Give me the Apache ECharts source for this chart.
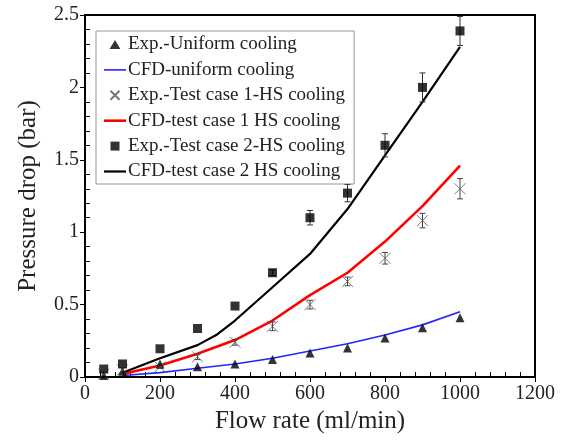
<!DOCTYPE html>
<html>
<head>
<meta charset="utf-8">
<script src="https://cdn.jsdelivr.net/npm/echarts@6/dist/echarts.min.js"></script>
<style>
  html, body { margin: 0; padding: 0; background: #fff; }
  #chart { width: 564px; height: 443px; }
</style>
</head>
<body>
<div id="chart"></div>
<script>
// Flow rates (ml/min) of the measured points
const flowExp = [50, 100, 200, 300, 400, 500, 600, 700, 800, 900, 1000];
// Measured pressure drop (bar)
const expUniform = [0.01, 0.04, 0.09, 0.07, 0.09, 0.12, 0.165, 0.20, 0.27, 0.34, 0.41];
const expCase1 = [0.02, 0.05, 0.07, 0.14, 0.24, 0.35, 0.50, 0.66, 0.82, 1.08, 1.30];
const errCase1 = [0, 0, 0.01, 0.02, 0.02, 0.03, 0.03, 0.03, 0.04, 0.05, 0.07];
const expCase2 = [0.055, 0.09, 0.195, 0.335, 0.49, 0.72, 1.10, 1.27, 1.60, 2.00, 2.39];
const errCase2 = [0, 0, 0, 0, 0, 0.02, 0.05, 0.06, 0.08, 0.10, 0.10];

// CFD predictions
const cfdFlow = [100, 200, 300, 400, 500, 600, 700, 800, 900, 1000];
const cfdUniform = [0.01, 0.03, 0.06, 0.09, 0.13, 0.18, 0.23, 0.29, 0.36, 0.45];
const cfdCase1 = [0.02, 0.08, 0.16, 0.255, 0.39, 0.565, 0.72, 0.935, 1.18, 1.46];
const cfdFlow2 = [100, 200, 300, 350, 400, 500, 600, 700, 800, 900, 1000];
const cfdCase2 = [0.03, 0.13, 0.22, 0.29, 0.39, 0.62, 0.85, 1.16, 1.53, 1.90, 2.28];

const xTicks = [0, 200, 400, 600, 800, 1000, 1200];
const yTicks = [0, 0.5, 1, 1.5, 2, 2.5];

const names = [
  'Exp.-Uniform cooling',
  'CFD-uniform cooling',
  'Exp.-Test case 1-HS cooling',
  'CFD-test case 1 HS cooling',
  'Exp.-Test case 2-HS cooling',
  'CFD-test case 2 HS cooling'
];

const FONT = '"Liberation Serif", "Times New Roman", serif';

// Legend icons (kept at their own aspect inside the icon box)
function lineIcon(w) { return 'path://M0,0 L22,0 L22,' + w + ' L0,' + w + ' Z'; }
const triIcon = 'path://M4.5,1.5 L9,9 L0,9 Z';
const sqIcon = 'path://M0,0 L8,0 L8,8 L0,8 Z';
const crossIcon = 'path://M0,0 L9,9 M9,0 L0,9';

function pairs(xs, ys) { return xs.map((x, i) => [x, ys[i]]); }
function errData(xs, ys, es) {
  return xs.map((x, i) => [x, ys[i], es[i]]).filter(d => d[2] > 0);
}

function errorBars(color) {
  return function (params, api) {
    const x = api.value(0), y = api.value(1), e = api.value(2);
    const top = api.coord([x, y + e]);
    const bot = api.coord([x, y - e]);
    const cap = 3;
    const st = { stroke: color, lineWidth: 1 };
    return {
      type: 'group',
      children: [
        { type: 'line', shape: { x1: top[0], y1: top[1], x2: bot[0], y2: bot[1] }, style: st },
        { type: 'line', shape: { x1: top[0] - cap, y1: top[1], x2: top[0] + cap, y2: top[1] }, style: st },
        { type: 'line', shape: { x1: bot[0] - cap, y1: bot[1], x2: bot[0] + cap, y2: bot[1] }, style: st }
      ]
    };
  };
}

const chart = echarts.init(document.getElementById('chart'), null, { renderer: 'canvas' });

chart.setOption({
  animation: false,
  backgroundColor: '#fff',
  textStyle: { fontFamily: FONT, color: '#000' },
  grid: {
    left: 85, right: 29, top: 15, bottom: 66,
    show: true, borderColor: '#000', borderWidth: 2, backgroundColor: 'transparent'
  },
  legend: {
    orient: 'vertical',
    left: 96, top: 31,
    padding: [4, 9, 3, 8],
    itemGap: 6.4,
    itemWidth: 22,
    itemHeight: 9,
    symbolKeepAspect: true,
    borderColor: '#999',
    borderWidth: 1,
    textStyle: { fontFamily: FONT, fontSize: 19, color: '#222', padding: [0, 0, 0, -3] },
    data: [
      { name: names[0], icon: triIcon },
      { name: names[1], icon: lineIcon(1.6) },
      { name: names[2], icon: crossIcon },
      { name: names[3], icon: lineIcon(2.6) },
      { name: names[4], icon: sqIcon },
      { name: names[5], icon: lineIcon(2.2) }
    ]
  },
  xAxis: {
    type: 'value',
    min: 0, max: 1200, interval: 200,
    name: 'Flow rate (ml/min)',
    nameLocation: 'middle',
    nameGap: 21,
    nameTextStyle: { fontFamily: FONT, fontSize: 25, color: '#222' },
    axisLine: { lineStyle: { color: '#000', width: 2 } },
    axisTick: { show: true, inside: false, length: 5, lineStyle: { color: '#000', width: 1 } },
    minorTick: { show: true, splitNumber: 5, length: -5, lineStyle: { color: '#000', width: 1 } },
    axisLabel: {
      fontFamily: FONT, fontSize: 20, color: '#222', margin: 7,
      formatter: v => xTicks.includes(v) ? String(v) : ''
    },
    splitLine: { show: false }
  },
  yAxis: {
    type: 'value',
    min: 0, max: 2.5, interval: 0.5,
    name: 'Pressure drop (bar)',
    nameLocation: 'middle',
    nameRotate: 90,
    nameGap: 44,
    nameTextStyle: { fontFamily: FONT, fontSize: 25, color: '#222' },
    axisLine: { lineStyle: { color: '#000', width: 2 } },
    axisTick: { show: true, inside: false, length: 5, lineStyle: { color: '#000', width: 1 } },
    minorTick: { show: true, splitNumber: 5, length: -5, lineStyle: { color: '#000', width: 1 } },
    axisLabel: {
      fontFamily: FONT, fontSize: 20, color: '#222', margin: 6,
      formatter: v => yTicks.includes(v) ? String(v) : ''
    },
    splitLine: { show: false }
  },
  series: [
    {
      name: names[0], type: 'scatter', symbol: 'triangle', symbolSize: 9,
      itemStyle: { color: '#000' },
      data: pairs(flowExp, expUniform), z: 5
    },
    {
      name: names[1], type: 'line', symbol: 'none',
      lineStyle: { color: '#2424ff', width: 1.6 }, itemStyle: { color: '#2424ff' },
      data: pairs(cfdFlow, cfdUniform), z: 3
    },
    {
      name: names[2], type: 'scatter',
      symbol: 'path://M0,0 L10,10 M10,0 L0,10', symbolSize: 11,
      itemStyle: { color: 'none', borderColor: '#555', borderWidth: 1 },
      data: pairs(flowExp, expCase1), z: 5
    },
    {
      name: names[3], type: 'line', symbol: 'none',
      lineStyle: { color: '#ff0000', width: 2.6 }, itemStyle: { color: '#ff0000' },
      data: pairs(cfdFlow, cfdCase1), z: 3
    },
    {
      name: names[4], type: 'scatter', symbol: 'rect', symbolSize: 9,
      itemStyle: { color: '#000' },
      data: pairs(flowExp, expCase2), z: 5
    },
    {
      name: names[5], type: 'line', symbol: 'none',
      lineStyle: { color: '#000', width: 2.2 }, itemStyle: { color: '#000' },
      data: pairs(cfdFlow2, cfdCase2), z: 3
    },
    {
      type: 'custom', renderItem: errorBars('#444'),
      data: errData(flowExp, expCase1, errCase1), z: 4, silent: true
    },
    {
      type: 'custom', renderItem: errorBars('#333'),
      data: errData(flowExp, expCase2, errCase2), z: 4, silent: true
    }
  ]
});
</script>
</body>
</html>
